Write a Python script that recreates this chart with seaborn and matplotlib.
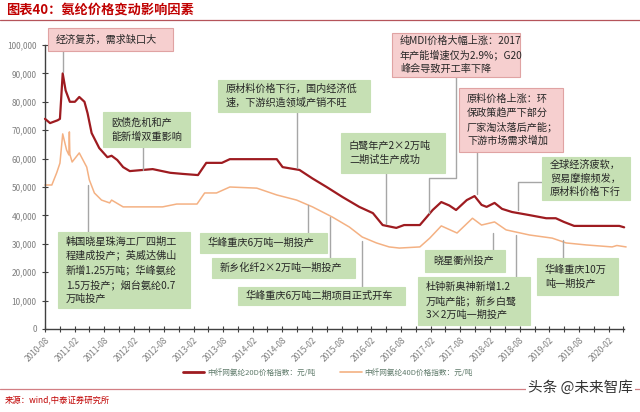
import numpy as np
import pandas as pd
import matplotlib
matplotlib.use("Agg")
import matplotlib.pyplot as plt
import matplotlib.dates as mdates
import seaborn as sns
from matplotlib.patches import Rectangle
from matplotlib.lines import Line2D

# ---------------- data ----------------
dates_20d = ["2010-08-01", "2010-09-01", "2010-10-18", "2010-11-01", "2010-11-18", "2010-12-06",
             "2011-01-01", "2011-02-01", "2011-02-28", "2011-04-01", "2011-04-20", "2011-05-15",
             "2011-07-01", "2011-08-20", "2011-09-15", "2011-10-20", "2011-11-25", "2012-01-05",
             "2012-03-25", "2012-05-25", "2012-09-10", "2012-11-28", "2013-02-28", "2013-04-20",
             "2013-07-25", "2013-09-12", "2014-06-28", "2014-08-03", "2014-11-15", "2015-02-03",
             "2015-05-01", "2015-08-06", "2015-11-18", "2016-02-10", "2016-04-10", "2016-07-03",
             "2016-08-20", "2016-11-25", "2017-01-06", "2017-02-12", "2017-04-06", "2017-05-25",
             "2017-07-06", "2017-09-10", "2017-10-28", "2017-12-10", "2018-01-10", "2018-02-28",
             "2018-04-15", "2018-06-15", "2018-10-01", "2019-01-12", "2019-03-12", "2019-05-01",
             "2019-07-03", "2020-04-06", "2020-05-06"]
price_20d = [74000, 72500, 73500, 74000, 90000, 84000,
             80000, 80000, 81700, 80000, 76000, 69000,
             63700, 60500, 61000, 59500, 57000, 55600,
             56000, 56300, 55000, 54600, 54200, 58500,
             58500, 59800, 59800, 57000, 56000, 53000,
             50000, 46500, 43000, 40800, 36600, 35600,
             36600, 36600, 39400, 41900, 44700, 43500,
             41900, 45400, 46800, 43700, 43000, 44400,
             42300, 41200, 40100, 39000, 39000, 37700,
             36300, 36300, 35800]

dates_40d = ["2010-08-01", "2010-09-12", "2010-10-12", "2010-11-01", "2010-11-18", "2010-12-12",
             "2010-12-26", "2010-12-29", "2011-01-01", "2011-01-15", "2011-02-28", "2011-04-15",
             "2011-05-01", "2011-06-01", "2011-07-15", "2011-09-03", "2011-09-15", "2011-11-25",
             "2012-07-25", "2012-10-20", "2013-02-22", "2013-04-10", "2013-06-22", "2013-09-12",
             "2014-02-25", "2014-06-28", "2014-10-28", "2015-02-03", "2015-06-06", "2015-09-18",
             "2015-12-06", "2016-03-03", "2016-05-20", "2016-07-22", "2016-11-25", "2017-01-25",
             "2017-04-06", "2017-07-12", "2017-10-15", "2017-12-10", "2018-02-28", "2018-05-10",
             "2018-10-01", "2019-02-18", "2019-05-15", "2019-09-15", "2020-02-22", "2020-03-22",
             "2020-05-18"]
price_40d = [50700, 50700, 55000, 58400, 68700, 63000,
             61300, 69400, 61500, 58800, 62000, 57000,
             52500, 47900, 45400, 44400, 45400, 43000,
             43000, 44000, 44000, 47900, 47900, 50000,
             49600, 47200, 45400, 43000, 39400, 35900,
             32400, 30300, 28900, 28500, 28900, 32000,
             36300, 33800, 39000, 36600, 37700, 34900,
             33100, 32000, 30300, 29600, 28900, 29400,
             28900]

series_names = ["中纤网氨纶20D价格指数：元/吨", "中纤网氨纶40D价格指数：元/吨"]
y_ticks = [0, 10000, 20000, 30000, 40000, 50000, 60000, 70000, 80000, 90000, 100000]

title_text = "图表40：氨纶价格变动影响因素"
source_text = "来源：wind,中泰证券研究所"
watermark_text = "头条 @未来智库"

# ---------------- style ----------------
sns.set_theme(style="white")
plt.rcParams["font.family"] = ["Noto Sans CJK SC", "DejaVu Sans"]
plt.rcParams["axes.unicode_minus"] = False

W, H = 640, 412
fig = plt.figure(figsize=(W / 100, H / 100), dpi=100)
fig.patch.set_facecolor("white")


def fx(x):
    return x / W


def fy(y):
    return 1 - y / H


RED = "#9e1b20"
ORANGE = "#f4b183"

ax = fig.add_axes([fx(45), fy(329), fx(624) - fx(45), fy(45) - fy(329)])

df = pd.concat([
    pd.DataFrame({"date": pd.to_datetime(dates_20d), "price": price_20d, "series": series_names[0]}),
    pd.DataFrame({"date": pd.to_datetime(dates_40d), "price": price_40d, "series": series_names[1]}),
], ignore_index=True)

sns.lineplot(data=df[df.series == series_names[1]], x="date", y="price", color=ORANGE,
             linewidth=1.1, ax=ax, legend=False, sort=False, zorder=2)
sns.lineplot(data=df[df.series == series_names[0]], x="date", y="price", color=RED,
             linewidth=1.6, ax=ax, legend=False, sort=False, zorder=3)
for ln in ax.lines:
    ln.set_clip_on(False)

ax.set_xlim(pd.Timestamp("2010-08-01"), pd.Timestamp("2020-05-05"))
ax.set_ylim(0, 100000)
ax.set_yticks(y_ticks)
ax.set_yticklabels([f"{v:,}" for v in y_ticks])
ax.set_xlabel("")
ax.set_ylabel("")
ax.xaxis.set_major_locator(mdates.MonthLocator(bymonth=[2, 8]))
ax.xaxis.set_minor_locator(mdates.MonthLocator(bymonth=[5, 11]))
ax.xaxis.set_major_formatter(mdates.DateFormatter("%Y-%m"))
for lab in ax.get_xticklabels():
    lab.set_rotation(45)
    lab.set_ha("right")
    lab.set_rotation_mode("anchor")
ax.tick_params(axis="x", which="both", direction="inout", length=4, width=0.8,
               color="#404040", labelsize=6, labelcolor="#7f7f7f", pad=3, bottom=True)
ax.tick_params(axis="y", direction="inout", length=4, width=0.8, color="#404040",
               labelsize=6, labelcolor="#7f7f7f", pad=4, left=True)
for s in ["top", "right"]:
    ax.spines[s].set_visible(False)
for s in ["left", "bottom"]:
    ax.spines[s].set_color("#404040")
    ax.spines[s].set_linewidth(1.0)
ax.grid(False)

# ---------------- title & frame lines ----------------
fig.text(fx(6), fy(10), title_text, color="#c00000", fontsize=9.5, fontweight="bold",
         style="italic", ha="left", va="center")
fig.add_artist(Line2D([0, 1], [fy(19.5), fy(19.5)], transform=fig.transFigure,
                      color="#b5545a", linewidth=0.9))
fig.add_artist(Line2D([0, 1], [fy(389), fy(389)], transform=fig.transFigure,
                      color="#d27f84", linewidth=0.9))
fig.text(fx(5), fy(401), source_text, color="#c00000", fontsize=6, ha="left", va="center")
fig.text(fx(633), fy(388), watermark_text, color="#333333", fontsize=10.5, ha="right",
         va="center", bbox=dict(facecolor="white", edgecolor="none", pad=1.5))

# ---------------- legend ----------------
handles = [Line2D([], [], color=RED, linewidth=2.0), Line2D([], [], color=ORANGE, linewidth=1.2)]
fig.legend(handles, series_names, loc="center", bbox_to_anchor=(fx(328), fy(373)), ncol=2,
           frameon=False, fontsize=5.5, handlelength=2.8, columnspacing=3.2,
           handletextpad=0.4, labelcolor="#5f7a6a")

# ---------------- annotations ----------------
PINK_F, PINK_E = "#f6cfcf", "#e0a3a3"
GREEN_F, GREEN_E = "#c6e0b4", "#c6e0b4"
CONN = "#a6a6a6"

annotations = [
    ("pink", (48, 28, 173, 51), "经济复苏，需求缺口大", [(63, 51), (63, 72)]),
    ("green", (103, 112, 190, 147), "欧债危机和产\n能新增双重影响", [(143, 147), (143, 170)]),
    ("green", (218, 80, 370, 112), "原材料价格下行，国内经济低\n速，下游织造领域产销不旺",
     [(297, 112), (297, 168)]),
    ("green", (341, 133, 445, 173), "白鹭年产2×2万吨\n二期试生产成功", [(386, 173), (386, 224)]),
    ("pink", (392, 33, 520, 77), "纯MDI价格大幅上涨：2017\n年产能增速仅为2.9%；G20\n峰会导致开工率下降",
     [(456, 77), (456, 178), (429, 178), (429, 213)]),
    ("pink", (459, 88, 563, 152), "原料价格上涨：环\n保政策趋严下部分\n厂家淘汰落后产能；\n下游市场需求增加",
     [(477, 152), (477, 194)]),
    ("green", (542, 157, 630, 200), "全球经济疲软，\n贸易摩擦频发，\n原材料价格下行",
     [(542, 182), (518, 182), (518, 210)]),
    ("green", (58, 232, 190, 308),
     "韩国晓星珠海工厂四期工\n程建成投产；英威达佛山\n新增1.25万吨；华峰氨纶\n1.5万投产；烟台氨纶0.7\n万吨投产",
     [(88, 185), (88, 232)]),
    ("green", (200, 233, 327, 253), "华峰重庆6万吨一期投产", [(308, 205), (308, 233)]),
    ("green", (212, 258, 355, 278), "新乡化纤2×2万吨一期投产", [(330, 217), (330, 258)]),
    ("green", (238, 287, 405, 305), "华峰重庆6万吨二期项目正式开车", [(362, 241), (362, 287)]),
    ("green", (425, 250, 505, 272), "晓星衢州投产", [(493, 233), (493, 250)]),
    ("green", (418, 277, 530, 325), "杜钟新奥神新增1.2\n万吨产能；新乡白鹭\n3×2万吨一期投产",
     [(516, 235), (516, 277)]),
    ("green", (537, 258, 618, 295), "华峰重庆10万\n吨一期投产", [(563, 240), (563, 258)]),
]

for kind, (l, t, r, b), txt, conn in annotations:
    xs = [fx(p[0]) for p in conn]
    ys = [fy(p[1]) for p in conn]
    fig.add_artist(Line2D(xs, ys, transform=fig.transFigure, color=CONN, linewidth=1.0, zorder=4))
    fc, ec = (PINK_F, PINK_E) if kind == "pink" else (GREEN_F, GREEN_E)
    fig.add_artist(Rectangle((fx(l), fy(b)), fx(r) - fx(l), fy(t) - fy(b),
                             transform=fig.transFigure, facecolor=fc, edgecolor=ec,
                             linewidth=0.8, zorder=5))
    fig.text(fx(l + 8), fy((t + b) / 2), txt, fontsize=7.3, color="#262626", ha="left",
             va="center", linespacing=1.45, zorder=6)

fig.savefig("out.png", dpi=100)
